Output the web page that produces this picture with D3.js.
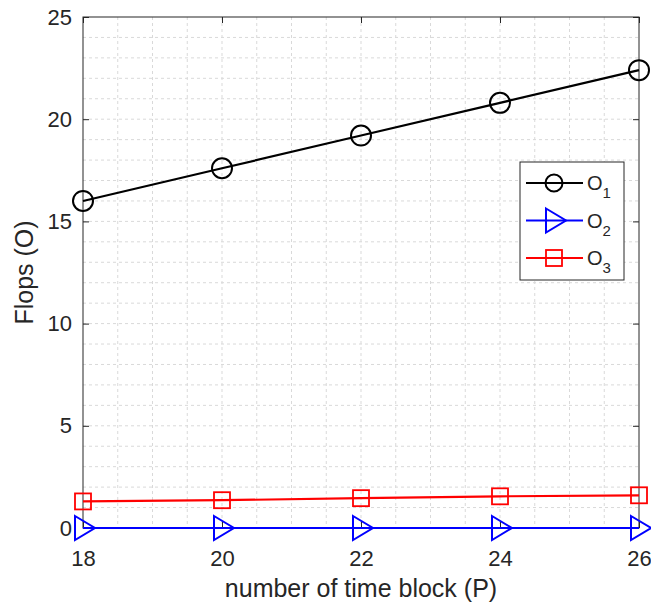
<!DOCTYPE html>
<html>
<head>
<meta charset="utf-8">
<script src="https://cdn.jsdelivr.net/npm/d3@7"></script>
<style>
  body { margin: 0; background: #fff; }
  text { font-family: "Liberation Sans", Arial, sans-serif; fill: #262626; }
</style>
</head>
<body>
<svg id="chart" width="651" height="606"></svg>
<script>
/* Data. */
const blocks = [18, 20, 22, 24, 26]
const o1 = [16.0, 17.6, 19.2, 20.8, 22.4]
const o2 = [0, 0, 0, 0, 0]
const o3 = [1.3, 1.36, 1.46, 1.55, 1.6]
const xTicks = [18, 20, 22, 24, 26]
const yTicks = [0, 5, 10, 15, 20, 25]
const seriesNames = ["1", "2", "3"]

/* Plot area. */
const plotLeft = 83, plotRight = 639, plotTop = 17, plotBottom = 528

const svg = d3.select("#chart")

const x = d3.scaleLinear().domain([18, 26]).range([plotLeft, plotRight])
const y = d3.scaleLinear().domain([0, 25]).range([plotBottom, plotTop])

/* Minor + major grid, all dashed light grey. */
const grid = svg.append("g")
grid.selectAll(".gx")
  .data(d3.range(18, 26.01, 0.5).slice(1, -1))
  .join("line")
  .attr("x1", d => x(d)).attr("x2", d => x(d))
  .attr("y1", plotTop).attr("y2", plotBottom)
grid.selectAll(".gy")
  .data(d3.range(1, 25))
  .join("line")
  .attr("x1", plotLeft).attr("x2", plotRight)
  .attr("y1", d => y(d)).attr("y2", d => y(d))
grid.selectAll("line")
  .attr("stroke", "#d9d9d9")
  .attr("stroke-width", 1)
  .attr("stroke-dasharray", "3,3")

/* Box. */
svg.append("rect")
  .attr("x", plotLeft).attr("y", plotTop)
  .attr("width", plotRight - plotLeft).attr("height", plotBottom - plotTop)
  .attr("fill", "none")
  .attr("stroke", "#262626")
  .attr("stroke-width", 1)

/* Axes with inward ticks. */
const xAxis = d3.axisBottom(x).tickValues(xTicks).tickSize(-6).tickPadding(22)
const yAxis = d3.axisLeft(y).tickValues(yTicks).tickSize(-6).tickPadding(11)

const gx = svg.append("g").attr("transform", `translate(0,${plotBottom})`).call(xAxis)
const gy = svg.append("g").attr("transform", `translate(${plotLeft},0)`).call(yAxis)
svg.append("g").attr("transform", `translate(0,${plotTop})`)
  .call(d3.axisTop(x).tickValues(xTicks).tickSize(-6).tickFormat(""))
svg.append("g").attr("transform", `translate(${plotRight},0)`)
  .call(d3.axisRight(y).tickValues(yTicks).tickSize(-6).tickFormat(""))

svg.selectAll(".domain").remove()
svg.selectAll(".tick line").attr("stroke", "#262626")
svg.selectAll(".tick text")
  .attr("font-size", 22)
  .attr("font-family", "Liberation Sans, Arial, sans-serif")
  .attr("fill", "#262626")
gx.selectAll(".tick text").attr("dy", "0.71em")

/* Axis labels. */
svg.append("text")
  .attr("x", (plotLeft + plotRight) / 2).attr("y", 597)
  .attr("text-anchor", "middle")
  .attr("font-size", 25)
  .text("number of time block (P)")

svg.append("text")
  .attr("transform", `translate(33,${(plotTop + plotBottom) / 2}) rotate(-90)`)
  .attr("text-anchor", "middle")
  .attr("font-size", 25)
  .text("Flops (O)")

/* Marker drawers. */
const circleMarker = (g, cx, cy, color, r = 10) =>
  g.append("circle").attr("cx", cx).attr("cy", cy).attr("r", r)
    .attr("fill", "none").attr("stroke", color).attr("stroke-width", 2)
const triMarker = (g, cx, cy, color) =>
  g.append("path")
    .attr("d", `M${cx - 8},${cy - 12}L${cx + 12},${cy}L${cx - 8},${cy + 12}Z`)
    .attr("fill", "none").attr("stroke", color).attr("stroke-width", 2)
const squareMarker = (g, cx, cy, color) =>
  g.append("rect").attr("x", cx - 8).attr("y", cy - 8)
    .attr("width", 16).attr("height", 16)
    .attr("fill", "none").attr("stroke", color).attr("stroke-width", 1.8)

const series = [
  { values: o1, color: "#000000", marker: circleMarker },
  { values: o2, color: "#0000ff", marker: triMarker },
  { values: o3, color: "#ff0000", marker: squareMarker }
]

const line = d3.line().x((d, i) => x(blocks[i])).y(d => y(d))

/* Draw series in reverse so black sits on top. */
series.slice().reverse().forEach(s => {
  const g = svg.append("g")
  g.append("path")
    .attr("d", line(s.values))
    .attr("fill", "none")
    .attr("stroke", s.color)
    .attr("stroke-width", 2.2)
  s.values.forEach((v, i) => s.marker(g, x(blocks[i]), y(v), s.color))
})

/* Legend. */
const lg = svg.append("g")
lg.append("rect")
  .attr("x", 520).attr("y", 162)
  .attr("width", 104).attr("height", 118)
  .attr("fill", "#fff")
  .attr("stroke", "#262626")
  .attr("stroke-width", 1)

series.forEach((s, i) => {
  const ly = 183 + i * 37.5
  lg.append("line")
    .attr("x1", 526).attr("x2", 583)
    .attr("y1", ly).attr("y2", ly)
    .attr("stroke", s.color).attr("stroke-width", 2.2)
  if (i === 0) circleMarker(lg, 554, ly, s.color, 8.5)
  else s.marker(lg, 554, ly, s.color)
  const t = lg.append("text")
    .attr("x", 587).attr("y", ly + 7)
    .attr("font-size", 20)
  t.append("tspan").text("O")
  t.append("tspan").attr("dy", 8).attr("font-size", 15).text(seriesNames[i])
})
</script>
</body>
</html>
